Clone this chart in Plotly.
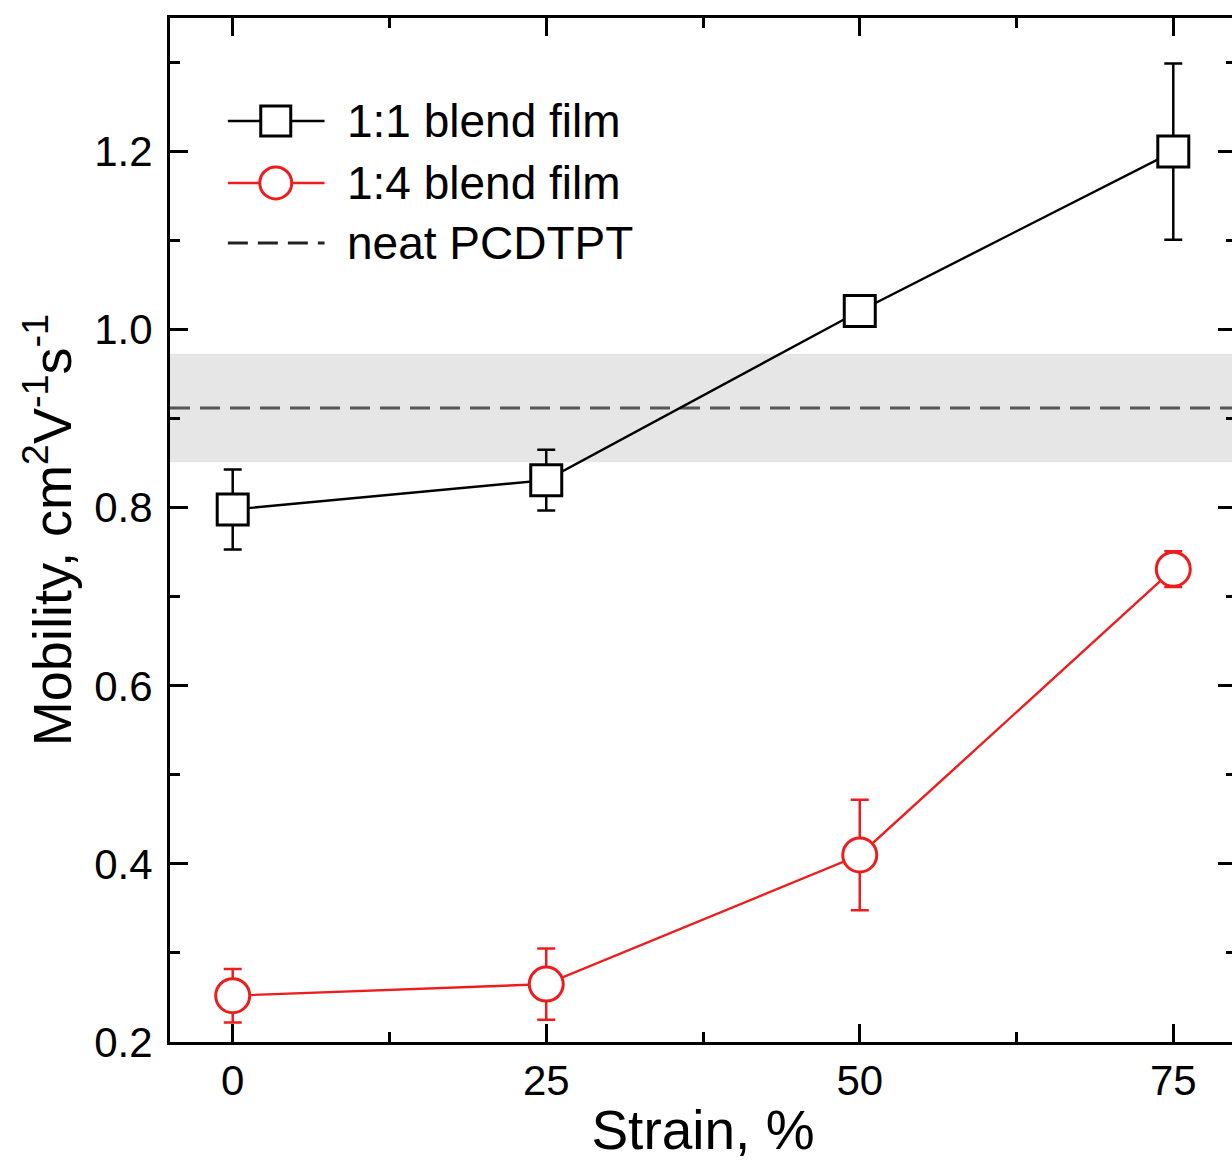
import plotly.graph_objects as go

strain = [0, 25, 50, 75]
blend11 = [0.798, 0.831, 1.021, 1.200]
blend11_err = [0.045, 0.034, 0.010, 0.099]
blend14 = [0.252, 0.265, 0.410, 0.731]
blend14_err = [0.030, 0.040, 0.062, 0.020]
neat_mean = 0.912
neat_err = 0.061
legend_labels = ["1:1 blend film", "1:4 blend film", "neat PCDTPT"]
xticks = [0, 25, 50, 75]
yticks = [0.2, 0.4, 0.6, 0.8, 1.0, 1.2]

FONT = "Arial, Liberation Sans, sans-serif"
RED = "#ee1c1c"

fig = go.Figure()

# band and dashed line for neat PCDTPT
fig.add_shape(type="rect", xref="paper", yref="y", x0=0, x1=1,
              y0=neat_mean - neat_err, y1=neat_mean + neat_err,
              fillcolor="#e6e6e6", line_width=0, layer="below")
fig.add_shape(type="line", xref="paper", yref="y", x0=0, x1=1,
              y0=neat_mean, y1=neat_mean,
              line=dict(color="#555555", width=3, dash="20px,10px"), layer="below")

fig.add_trace(go.Scatter(
    x=strain, y=blend11, mode="lines+markers",
    line=dict(color="black", width=2.4),
    marker=dict(symbol="square", size=31, color="white", line=dict(width=3, color="black")),
    error_y=dict(type="data", array=blend11_err, color="black", thickness=2.5, width=9),
    showlegend=False))
fig.add_trace(go.Scatter(
    x=strain, y=blend14, mode="lines+markers",
    line=dict(color=RED, width=2.4),
    marker=dict(symbol="circle", size=34, color="white", line=dict(width=3, color=RED)),
    error_y=dict(type="data", array=blend14_err, color=RED, thickness=2.5, width=9),
    showlegend=False))

# manual legend
rows = [0.8994, 0.8389, 0.7803]
lx0, lx1, lxm, ltx = 0.0543, 0.145, 0.0992, 0.1637
fig.add_shape(type="line", xref="paper", yref="paper", x0=lx0, x1=lx1, y0=rows[0], y1=rows[0],
              line=dict(color="black", width=2.4))
fig.add_shape(type="rect", xref="paper", yref="paper", xsizemode="pixel", ysizemode="pixel",
              xanchor=lxm, yanchor=rows[0], x0=-15, x1=15, y0=-15, y1=15,
              fillcolor="white", line=dict(color="black", width=3))
fig.add_shape(type="line", xref="paper", yref="paper", x0=lx0, x1=lx1, y0=rows[1], y1=rows[1],
              line=dict(color=RED, width=2.4))
fig.add_shape(type="circle", xref="paper", yref="paper", xsizemode="pixel", ysizemode="pixel",
              xanchor=lxm, yanchor=rows[1], x0=-16, x1=16, y0=-16, y1=16,
              fillcolor="white", line=dict(color=RED, width=3))
fig.add_shape(type="line", xref="paper", yref="paper", x0=lx0, x1=lx1, y0=rows[2], y1=rows[2],
              line=dict(color="#222222", width=3, dash="20px,10px"))
for lab, ry in zip(legend_labels, rows):
    fig.add_annotation(xref="paper", yref="paper", x=ltx, y=ry, text=lab, showarrow=False,
                       xanchor="left", yanchor="middle", font=dict(family=FONT, size=46, color="black"))

axis_common = dict(showline=True, linecolor="black", linewidth=3, mirror="ticks",
                   ticks="inside", ticklen=18, tickwidth=2.5, tickcolor="black",
                   showgrid=False, zeroline=False,
                   tickfont=dict(family=FONT, size=42, color="black"))

fig.update_xaxes(range=[-5, 80], tickvals=xticks, ticktext=[str(v) for v in xticks],
                 title=dict(text="Strain, %", font=dict(family=FONT, size=55, color="black"), standoff=8),
                 minor=dict(tickvals=[12.5, 37.5, 62.5], ticks="inside", ticklen=10, tickwidth=2.5, tickcolor="black"),
                 **axis_common)
fig.update_yaxes(range=[0.2, 1.35], tickvals=yticks, ticktext=[f"{v:.1f}" for v in yticks],
                 ticklabelstandoff=6,
                 title=dict(text="Mobility, cm<sup>2</sup>V<sup>-1</sup>s<sup>-1</sup>",
                            font=dict(family=FONT, size=54, color="black"), standoff=6),
                 minor=dict(tickvals=[0.3, 0.5, 0.7, 0.9, 1.1, 1.3], ticks="inside", ticklen=10, tickwidth=2.5, tickcolor="black"),
                 **axis_common)

fig.update_layout(width=1250, height=1166,
                  margin=dict(l=170, r=11, t=18, b=124),
                  plot_bgcolor="white", paper_bgcolor="white")

fig.write_html("out.html", config={"displayModeBar": False},
               post_script="document.documentElement.style.overflow='hidden';document.body.style.overflow='hidden';document.body.style.margin='0';")
